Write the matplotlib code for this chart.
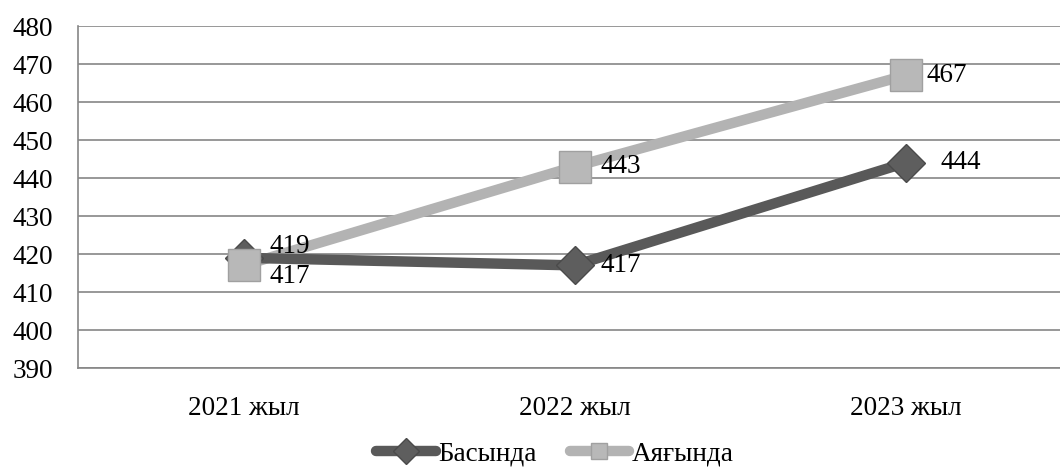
import matplotlib
matplotlib.use("Agg")
import matplotlib.pyplot as plt
from matplotlib.lines import Line2D

categories = ["2021 жыл", "2022 жыл", "2023 жыл"]
basynda = [419, 417, 444]
ayagynda = [417, 443, 467]
series_names = ["Басында", "Аяғында"]

plt.rcParams['font.family'] = ['Liberation Serif', 'DejaVu Serif']

W, H = 1060, 470
fig = plt.figure(figsize=(W/100, H/100), dpi=100)
ax = fig.add_axes([78/W, 1-368/H, 993/W, 342/H])

x = list(range(len(categories)))
dark = "#595959"
light = "#b3b3b3"

ax.plot(x, ayagynda, color=light, lw=7.5, solid_capstyle='round', zorder=3)
ax.plot(x, basynda, color=dark, lw=7.5, solid_capstyle='round', zorder=4)
ax.plot(x, basynda, ls='none', marker='D', ms=19, mfc="#5e5e5e", mec="#4a4a4a", mew=1, zorder=5)
ax.plot(x, ayagynda, ls='none', marker='s', ms=23, mfc="#b8b8b8", mec="#a0a0a0", mew=1, zorder=6)

fs = 19.5
for i, v in enumerate(basynda):
    dy = 8 if i == 0 else 0
    dx = 19 if i < 2 else 25
    ax.annotate(str(v), (i, v), xytext=(dx, dy), textcoords='offset points',
                ha='left', va='center', fontsize=fs, zorder=7)
for i, v in enumerate(ayagynda):
    dy = -8 if i == 0 else 0
    dx = 19 if i < 2 else 15
    ax.annotate(str(v), (i, v), xytext=(dx, dy), textcoords='offset points',
                ha='left', va='center', fontsize=fs, zorder=7)

ax.set_xlim(-0.5, 2.5)
ax.set_ylim(390, 480)
ax.set_yticks(range(390, 481, 10))
ax.set_xticks(x)
ax.set_xticklabels(categories)
ax.tick_params(axis='both', labelsize=fs, length=0)
ax.tick_params(axis='x', pad=20)
ax.tick_params(axis='y', pad=18)
ax.grid(axis='y', color="#868686", lw=1.2)
ax.set_axisbelow(True)
for s in ['top', 'right']:
    ax.spines[s].set_visible(False)
ax.spines['left'].set_color("#868686")
ax.spines['left'].set_linewidth(1.2)
ax.spines['bottom'].set_color("#868686")
ax.spines['bottom'].set_linewidth(1.2)

handles = [
    Line2D([], [], color=dark, lw=7.5, marker='D', ms=13, mfc="#5e5e5e", mec="#4a4a4a", solid_capstyle='round'),
    Line2D([], [], color=light, lw=7.5, marker='s', ms=12, mfc="#b8b8b8", mec="#a0a0a0", solid_capstyle='round'),
]
fig.legend(handles, series_names, loc='center', bbox_to_anchor=(555/W, 1-454/H), ncol=2,
           frameon=False, fontsize=fs, handlelength=2.2, handletextpad=0.1, columnspacing=1.2,
           borderpad=0.1)

fig.savefig("out.png", dpi=100)
